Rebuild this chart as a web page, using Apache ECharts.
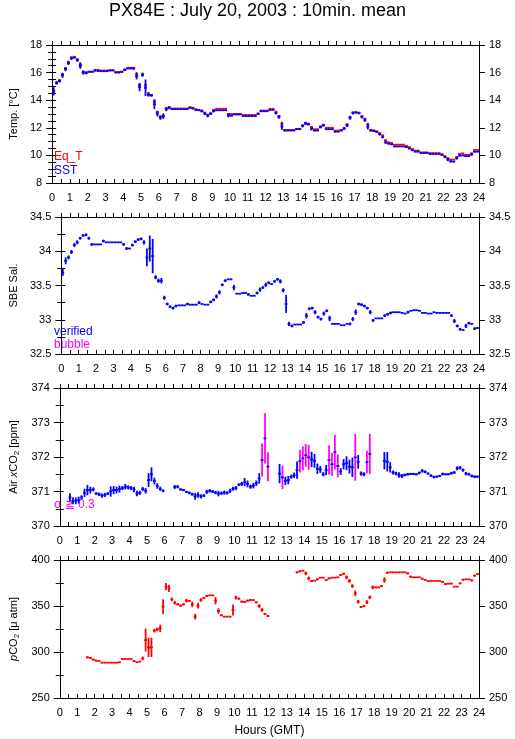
<!DOCTYPE html>
<html><head><meta charset="utf-8">
<script src="https://cdn.jsdelivr.net/npm/echarts@6/dist/echarts.min.js"></script>
<style>html,body{margin:0;padding:0;background:#fff}#c{width:515px;height:739px}</style>
</head><body><div id="c"></div>
<script>
// 10-minute bins, 144 per day (index i covers hours i/6 .. (i+1)/6)
const hourTickLabels = ['0','1','2','3','4','5','6','7','8','9','10','11','12','13','14','15','16','17','18','19','20','21','22','23','24'];

const sst = [
14.64,15.25,15.4,15.8,16.25,16.7,17.03,17.08,16.9,16.5,16.0,15.97,
16.05,16.05,16.15,16.13,16.1,16.1,16.1,16.15,16.15,16.0,16.0,16.05,
16.2,16.3,16.3,16.3,15.73,14.95,15.85,14.9,14.38,14.35,13.7,13.02,
12.73,12.85,13.35,13.45,13.35,13.35,13.35,13.35,13.35,13.35,13.45,13.4,
13.3,13.27,13.2,13.02,12.88,13.02,13.22,13.27,13.27,13.27,13.27,12.9,
12.88,12.97,12.97,12.97,12.85,12.85,12.85,12.85,12.85,13.0,13.2,13.2,
13.2,13.3,13.3,13.07,12.78,12.1,11.8,11.8,11.8,11.8,11.9,11.9,
12.13,12.3,12.25,11.93,11.8,11.8,12.05,12.18,11.9,11.9,11.9,11.72,
11.72,11.8,11.93,12.18,12.73,13.07,13.1,13.05,12.78,12.55,12.08,11.8,
11.77,11.7,11.53,11.33,10.95,10.85,10.8,10.65,10.65,10.65,10.65,10.6,
10.5,10.37,10.27,10.27,10.17,10.17,10.17,10.1,10.1,10.1,10.1,10.03,
9.88,9.7,9.57,9.55,9.8,10.0,10.0,9.95,9.95,10.07,10.27,10.27];

const sstErr = [
0.3,0.12,0.12,0.18,0.15,0.15,0.12,0,0.12,0.22,0.15,0.1,
0,0,0.08,0.08,0,0,0,0.05,0,0,0,0.05,
0.08,0.05,0,0.1,0.22,0.3,0.15,0.6,0.12,0.1,0.35,0.2,
0.15,0.2,0.15,0.1,0,0,0,0,0,0,0.05,0.05,
0.05,0.05,0.08,0.1,0.12,0.1,0.1,0,0,0,0,0.15,
0.05,0,0,0,0,0,0,0,0,0.08,0.05,0,
0,0.05,0.05,0.1,0.12,0.25,0.05,0,0,0,0.05,0,
0.1,0.1,0.08,0.12,0.05,0,0.1,0.1,0,0,0,0.05,
0,0,0.08,0.12,0.15,0.1,0.05,0.05,0.1,0.12,0.2,0.08,
0.05,0.05,0.08,0.1,0.12,0.05,0.05,0,0,0,0,0.05,
0.05,0.05,0,0,0,0,0,0,0,0,0,0.05,
0.08,0.12,0.08,0.05,0.1,0.1,0.05,0,0,0.1,0.05,0];

const eqT = [
14.7,15.28,15.42,15.85,16.3,16.75,17.1,17.15,16.95,16.55,16.05,16.02,
16.08,16.08,16.2,16.2,16.15,16.15,16.15,16.18,16.18,16.05,16.05,16.08,
16.22,16.35,16.35,16.35,15.9,15.1,15.85,15.1,14.5,14.38,13.9,13.15,
12.8,12.85,13.4,13.5,13.4,13.4,13.4,13.4,13.4,13.4,13.5,13.45,
13.35,13.3,13.25,13.1,12.95,13.05,13.3,13.38,13.38,13.38,13.38,13.0,
13.0,13.0,13.0,13.0,12.93,12.93,12.93,12.93,12.93,13.05,13.25,13.25,
13.25,13.38,13.38,13.15,12.85,12.3,11.85,11.85,11.85,11.85,11.92,11.92,
12.18,12.37,12.3,12.05,11.9,11.9,12.1,12.22,12.0,12.0,12.0,11.8,
11.8,11.85,12.0,12.25,12.75,13.12,13.15,13.1,12.85,12.65,12.25,11.85,
11.82,11.75,11.62,11.45,11.1,10.95,10.9,10.78,10.78,10.78,10.78,10.7,
10.6,10.47,10.35,10.35,10.22,10.22,10.22,10.17,10.17,10.17,10.17,10.1,
9.95,9.8,9.7,9.7,9.88,10.12,10.15,10.05,10.05,10.15,10.4,10.4];

const eqTErr = [
0.1,0.08,0.08,0.1,0.1,0.1,0.05,0.05,0.08,0.2,0.1,0.05,
0,0,0,0,0,0,0,0,0,0,0,0,
0.05,0,0,0,0.15,0.1,0,0.12,0.1,0,0.15,0.08,
0.1,0.1,0.08,0,0,0,0,0,0,0,0,0,
0,0,0.05,0.05,0.05,0.05,0.05,0,0,0,0,0.05,
0,0,0,0,0,0,0,0,0,0,0,0,
0,0,0,0.08,0.08,0.15,0,0,0,0,0,0,
0.05,0.05,0,0.05,0,0,0.05,0.05,0,0,0,0,
0,0,0.05,0.05,0.08,0.05,0,0,0.05,0.08,0.12,0.05,
0,0,0.05,0.05,0.05,0,0,0,0,0,0,0,
0,0,0,0,0,0,0,0,0,0,0,0,
0.05,0.05,0,0,0.05,0.05,0,0,0,0.05,0.05,0];

const sal = [
33.69,33.86,33.91,33.99,34.09,34.13,34.19,34.23,34.24,34.19,34.1,34.1,
34.1,34.1,34.15,34.13,34.13,34.13,34.13,34.13,34.13,34.1,34.04,34.04,
34.09,34.14,34.17,34.18,34.13,33.91,34.04,33.93,33.62,33.57,33.57,33.32,
33.23,33.19,33.17,33.2,33.21,33.21,33.21,33.23,33.22,33.22,33.22,33.25,
33.23,33.22,33.22,33.26,33.29,33.34,33.4,33.51,33.57,33.59,33.59,33.47,
33.38,33.38,33.39,33.39,33.37,33.35,33.35,33.39,33.44,33.47,33.51,33.54,
33.52,33.56,33.59,33.56,33.43,33.23,32.94,32.91,32.93,32.93,32.93,32.96,
33.06,33.16,33.17,33.11,33.04,33.01,33.09,33.13,33.02,32.94,32.94,32.94,
32.92,32.92,32.94,32.94,33.01,33.11,33.23,33.22,33.2,33.17,33.11,32.99,
33.02,33.02,33.02,33.06,33.08,33.1,33.11,33.11,33.11,33.1,33.09,33.11,
33.13,33.14,33.14,33.13,33.1,33.1,33.09,33.09,33.11,33.1,33.1,33.1,
33.1,33.1,33.06,32.98,32.91,32.86,32.85,32.91,32.95,32.94,32.87,32.88];

const salErr = [
0.05,0.05,0.03,0.03,0.03,0.03,0.02,0.02,0.02,0.02,0.02,0,
0,0,0.02,0,0,0,0,0,0,0.02,0.02,0,
0.02,0.02,0.02,0.02,0.03,0.13,0.19,0.25,0.03,0.03,0.04,0.03,
0.02,0.02,0.02,0.02,0,0,0,0.02,0,0,0,0.02,
0,0,0,0.02,0.02,0.03,0.03,0.02,0.02,0,0,0.04,
0,0,0,0,0.02,0,0,0.02,0.03,0.02,0.03,0.02,
0,0.02,0.02,0.03,0.03,0.13,0.03,0.02,0,0,0,0.02,
0.04,0.02,0.02,0.03,0.02,0.02,0.03,0.02,0.04,0,0,0,
0,0,0,0.02,0.03,0.04,0.02,0.02,0.02,0.02,0.03,0.02,
0,0,0,0.02,0.02,0.02,0,0,0,0,0,0.02,
0,0,0,0,0,0,0,0,0,0,0,0,
0,0,0.02,0.03,0.02,0.02,0,0.03,0.02,0,0.02,0];

const xco2 = [
null,null,null,370.83,370.73,370.73,370.75,370.83,370.96,371.04,371.04,371.06,
370.94,370.92,370.88,370.9,370.94,371.0,371.04,371.04,371.07,371.1,371.14,371.12,
371.1,371.06,370.94,370.96,371.07,371.02,371.33,371.5,371.3,371.16,371.08,371.02,
null,null,null,371.13,371.14,371.06,371.04,370.99,370.96,370.92,370.86,370.9,
370.86,370.88,370.99,371.02,371.0,370.97,370.94,370.95,370.97,370.96,371.02,371.08,
371.1,371.2,371.22,371.27,371.22,371.14,371.17,371.24,371.38,371.91,372.54,371.72,
null,null,null,371.52,371.41,371.31,371.33,371.43,371.47,371.62,371.88,371.96,
372.05,371.99,371.93,371.89,371.66,371.64,371.5,371.62,371.91,371.79,372.14,371.74,
371.58,371.79,371.82,371.72,371.7,371.99,371.86,371.52,371.5,371.85,372.09,null,
null,null,null,371.89,371.86,371.7,371.55,371.52,371.48,371.45,371.48,371.5,
371.51,371.51,371.5,371.54,371.6,371.57,371.52,371.46,371.42,371.43,371.45,371.51,
371.5,371.5,371.53,371.55,371.67,371.69,371.62,371.52,371.5,371.45,371.43,371.43];

const xco2Sigma = [
0,0,0,0.12,0.1,0.1,0.1,0.06,0.12,0.15,0.1,0.06,
0.04,0.05,0.06,0.06,0.04,0.15,0.12,0.1,0.1,0.06,0.08,0.06,
0.06,0.08,0.08,0.06,0.06,0.08,0.2,0.2,0.1,0.08,0.06,0.04,
0,0,0,0.06,0.05,0.03,0.03,0.03,0.04,0.04,0.1,0.08,
0.06,0.04,0.06,0.05,0.04,0.05,0.08,0.05,0.06,0.05,0.06,0.06,
0.06,0.04,0.06,0.12,0.1,0.06,0.08,0.08,0.15,0.48,0.73,0.42,
0,0,0,0.28,0.34,0.12,0.12,0.06,0.08,0.25,0.33,0.35,
0.33,0.36,0.22,0.2,0.15,0.1,0.06,0.15,0.42,0.33,0.5,0.33,
0.1,0.15,0.2,0.2,0.28,0.68,0.2,0.06,0.06,0.33,0.58,0,
0,0,0,0.25,0.28,0.15,0.06,0.05,0.08,0.06,0.04,0.04,
0.03,0.03,0.03,0.04,0.05,0.04,0.03,0.04,0.04,0.03,0.03,0.04,
0.03,0.03,0.04,0.04,0.06,0.05,0.05,0.05,0.04,0.04,0.04,0.03];

const pco2 = [
null,null,null,null,null,null,null,null,null,294.2,293.5,291.7,
290.6,290.2,288.4,288.4,288.4,288.4,288.4,288.4,288.8,292.4,292.4,292.4,
292.4,290.2,288.8,289.5,293.1,313,305,305,323.2,324.6,325.7,349.3,
371,369.2,357.2,353.6,351.8,350.4,351.8,355.8,355.4,351.8,338.4,350.4,
356.5,358.7,360.9,361.6,361.6,355.8,344.6,339.9,338.4,338.4,338.4,345.7,
359.1,358,354.7,354.3,355.8,356.5,356.5,354,350,345.7,341.3,339.1,
null,null,null,null,null,null,null,null,null,386.6,387.7,388.4,
385.5,380,377.2,377.5,379,380.8,380.8,378.3,380,380.8,380.8,381.2,
383.7,385.1,381.2,377.2,371.7,363.8,354.7,348.9,350,354.3,359.4,370.3,
370.3,370.3,371.7,378.3,386.2,386.6,386.6,386.6,386.6,386.6,386.6,385.5,
381.9,381.2,381.2,381.2,379.7,378.3,377.2,377.2,377.2,377.2,377.2,376.1,
373.9,374.3,374.3,371,371,374.6,378.6,379,379,377.9,383,384.8];

const pco2Err = [
0,0,0,0,0,0,0,0,0,1,1,1,
1,0,0,0,0,0,0,0,0,1,0,0,
0,1,0,0,2,12.5,10.5,10.5,2,2,4,8,
4,4,2,2,1,1,1,2,1,3,3,3,
2,1,1,0,0,4,3,1,0,0,0,6,
2,1,1,1,1,1,0,1,2,2,1,1,
0,0,0,0,0,0,0,0,0,1,1,0,
2,2,1,0,1,0,0,1,1,0,0,0,
1,1,2,2,2,3,2,1,1,2,2,2,
0,0,1,3,1,0,0,0,0,0,0,1,
1,0,0,0,1,0,0,0,0,0,0,1,
1,0,0,0,0,1,1,0,0,1,1,0];

const BIN = 1 / 6;
function binData(vals, errs) {
  const out = [];
  vals.forEach((v, i) => { if (v !== null) out.push([(i + 0.5) * BIN, v, errs[i] || 0]); });
  return out;
}

const FONT = '"Liberation Sans", Arial, Helvetica, sans-serif';
const RED = '#ff0000', BLUE = '#0000ff', MAG = '#ff00ff';

function stepRender(color, errColorFn, lw) {
  return function (params, api) {
    const t = api.value(0), v = api.value(1), e = api.value(2);
    const a = api.coord([t - BIN / 2, v]);
    const b = api.coord([t + BIN / 2, v]);
    const ch = [];
    if (e > 0) {
      const p = api.coord([t, v + e]), q = api.coord([t, v - e]);
      ch.push({ type: 'line', shape: { x1: p[0], y1: p[1], x2: q[0], y2: q[1] },
        style: { stroke: errColorFn ? errColorFn(e) : color, lineWidth: lw } });
    }
    ch.push({ type: 'line', shape: { x1: a[0], y1: a[1], x2: b[0], y2: b[1] },
      style: { stroke: color, lineWidth: lw } });
    return { type: 'group', children: ch };
  };
}

const grids = [
  { left: 51, width: 428, top: 45, height: 138 },
  { left: 51, width: 428, top: 217, height: 137 },
  { left: 51, width: 428, top: 388, height: 138 },
  { left: 51, width: 428, top: 560, height: 138 }
];

const black = { color: '#000', width: 1 };
const xAxes = [];
grids.forEach((g, gi) => {
  xAxes.push({
    gridIndex: gi, type: 'value', position: 'bottom', min: 0, max: 24, interval: 1,
    axisLine: { show: true, onZero: false, lineStyle: black },
    axisTick: { show: true, inside: true, length: 4, lineStyle: black },
    minorTick: { show: true, splitNumber: 2, length: 4, lineStyle: black },
    axisLabel: { show: true, color: '#000', fontSize: 11, fontFamily: FONT, margin: 9,
      formatter: v => hourTickLabels[Math.round(v)] },
    splitLine: { show: false },
    name: gi === 3 ? 'Hours (GMT)' : '', nameLocation: 'middle', nameGap: 27,
    nameTextStyle: { color: '#000', fontSize: 12, fontFamily: FONT }
  });
  xAxes.push({
    gridIndex: gi, type: 'value', position: 'top', min: 0, max: 24, interval: 1,
    axisLine: { show: true, onZero: false, lineStyle: black },
    axisTick: { show: true, inside: false, length: 4, lineStyle: black },
    minorTick: { show: true, splitNumber: 2, length: 4, lineStyle: black },
    axisLabel: { show: false }, splitLine: { show: false }
  });
});

function yAxesFor(gi, min, max, interval, minor, name, nameGap) {
  const base = { gridIndex: gi, type: 'value', min, max, splitLine: { show: false } };
  const major = side => Object.assign({}, base, {
    position: side, interval,
    axisLine: { show: true, onZero: false, lineStyle: black },
    axisTick: { show: true, inside: false, length: 6, lineStyle: black },
    axisLabel: { show: true, color: '#000', fontSize: 11, fontFamily: FONT, margin: 10 },
    name: side === 'left' ? name : '', nameLocation: 'middle', nameRotate: 90, nameGap,
    nameTextStyle: {
      color: '#000', fontSize: 11, fontFamily: FONT,
      rich: {
        n: { fontSize: 11, fontFamily: FONT, color: '#000' },
        i: { fontSize: 11, fontFamily: FONT, color: '#000', fontStyle: 'italic' },
        s: { fontSize: 8, fontFamily: FONT, color: '#000', padding: [6, 0, 0, 0] }
      }
    }
  });
  const minorAx = side => Object.assign({}, base, {
    position: side, interval: minor,
    axisLine: { show: false },
    axisTick: { show: true, inside: true, length: 4, lineStyle: black },
    axisLabel: { show: false }
  });
  return [major('left'), minorAx('left'), major('right'), minorAx('right')];
}

const yAxes = [].concat(
  yAxesFor(0, 8, 18, 2, 0.5, 'Temp. [°C]', 23),
  yAxesFor(1, 32.5, 34.5, 0.5, 0.25, 'SBE Sal.', 42),
  yAxesFor(2, 370, 374, 1, 0.5, '{n|Air }{i|x}{n|CO}{s|2}{n| [ppm]}', 35),
  yAxesFor(3, 250, 400, 50, 25, '{i|p}{n|CO}{s|2}{n| [μ atm]}', 35)
);

function custom(gi, data, color, errColorFn) {
  return {
    type: 'custom', xAxisIndex: gi * 2, yAxisIndex: gi * 4, clip: true,
    renderItem: stepRender(color, errColorFn, 1.8),
    encode: { x: 0, y: 1 }, data, silent: true
  };
}

const series = [
  custom(0, binData(eqT, eqTErr), RED),
  custom(0, binData(sst, sstErr), BLUE),
  custom(1, binData(sal, salErr), BLUE),
  custom(2, binData(xco2, xco2Sigma), BLUE, e => (e >= 0.3 ? MAG : BLUE)),
  custom(3, binData(pco2, pco2Err), RED)
];

const txt = (x, y, text, color) => ({
  type: 'text', left: x, top: y,
  style: { text, fill: color, fontSize: 12, fontFamily: FONT }
});

const chart = echarts.init(document.getElementById('c'), null, { renderer: 'canvas' });
chart.setOption({
  animation: false,
  backgroundColor: '#fff',
  title: {
    text: 'PX84E : July 20, 2003 : 10min. mean', left: 'center', top: 2, padding: 0,
    textStyle: { fontSize: 18, fontWeight: 'normal', color: '#000', fontFamily: FONT }
  },
  grid: grids,
  xAxis: xAxes,
  yAxis: yAxes,
  series,
  graphic: [
    txt(54, 151, 'Eq_T', RED),
    txt(54, 165, 'SST', BLUE),
    txt(54, 326, 'verified', BLUE),
    txt(54, 339, 'bubble', MAG),
    txt(54, 499, 'σ ≧ 0.3', MAG)
  ]
});
</script>
</body></html>
